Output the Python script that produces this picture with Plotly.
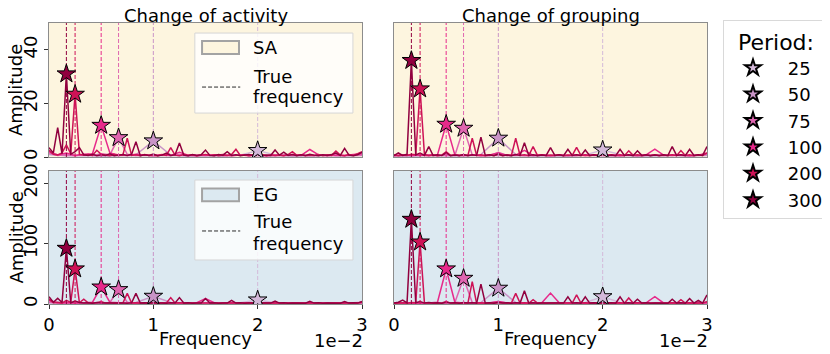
import plotly.graph_objects as go
from plotly.subplots import make_subplots

# Periods and their colours (PuRd)
PERIODS = [25, 50, 75, 100, 200, 300]
COLORS = ["#d4b9da", "#c994c7", "#df65b0", "#e7298a", "#ce1256", "#91003f"]
# number of samples of each series -> frequency bin width is 1/N
N_SAMPLES = [600, 600, 1200, 1200, 2400, 2400]

TITLES = ["Change of activity", "Change of grouping"]
MODELS = ["SA", "EG"]
Y_TICKS = [[0, 20, 40], [0, 100, 200]]
Y_MAX = [50, 220]
X_TICKS = [0, 0.01, 0.02, 0.03]
X_TICKTEXT = ["0", "1", "2", "3"]

# ---- amplitude spectra, SA / change of activity ----
SA_ACT_P25 = [0.8, 0.5, 0.4, 0.6, 0.5, 0.4, 0.5, 0.6, 0.4, 0.5,
              0.6, 0.7, 2.4, 0.8, 0.5, 0.4, 0.6, 0.5, 0.7]
SA_ACT_P50 = [1.0, 0.5, 0.7, 0.4, 0.6, 0.8, 6.0, 0.7, 0.5, 0.6,
              0.4, 0.7, 0.5, 0.6, 0.4, 0.5, 0.7, 0.5, 0.6]
SA_ACT_P75 = [1.5, 0.6, 0.8, 0.5, 0.9, 0.6, 1.2, 0.8, 7.2, 1.0,
              0.6, 0.8, 0.5, 0.7, 0.6, 0.9, 0.5, 0.7, 0.6, 0.8,
              0.5, 0.6, 0.7, 0.5, 0.8, 0.6, 0.5, 0.7, 0.6, 0.8,
              0.5, 0.6, 0.7, 0.5, 0.6, 0.8, 0.7]
SA_ACT_P100 = [2.0, 0.8, 1.5, 0.6, 1.0, 1.2, 11.8, 1.5, 0.8, 0.6,
               1.0, 0.7, 0.5, 0.9, 0.6, 1.8, 0.7, 0.5, 0.8, 0.6,
               0.9, 0.5, 0.7, 0.6, 0.8, 0.5, 0.7, 0.6, 0.9, 0.6,
               2.8, 0.8, 0.5, 0.7, 0.6, 0.9, 1.2]
SA_ACT_P200 = [2.5, 1.0, 0.8, 1.5, 4.5, 1.2, 23.4, 1.0, 0.7, 0.9,
               0.6, 2.5, 1.0, 0.7, 0.5, 0.9, 0.6, 0.8, 7.0, 0.6,
               0.8, 0.5, 0.9, 0.6, 0.7, 0.5, 0.8, 0.6, 3.5, 0.7,
               0.5, 0.9, 0.6, 0.8, 0.5, 0.7, 0.9, 0.6, 0.8, 0.5,
               0.7, 0.6, 0.9, 2.9, 0.6, 0.8, 0.5, 0.7, 0.6, 0.9,
               0.5, 0.8, 0.6, 0.7, 0.5, 0.9, 2.0, 0.6, 0.8, 0.5,
               0.7, 0.6, 0.9, 0.5, 0.8, 0.6, 2.2, 0.7, 0.5, 0.9,
               0.6, 1.2, 2.0]
SA_ACT_P300 = [3.5, 1.5, 11, 1.2, 31, 1.0, 2.0, 3.5, 0.8, 0.6,
               1.0, 0.5, 0.8, 0.6, 1.2, 0.5, 0.7, 0.9, 0.6, 1.0,
               5.7, 0.5, 0.8, 0.6, 1.1, 0.5, 0.7, 1.5, 0.6, 0.8,
               5.2, 0.7, 0.5, 0.9, 0.6, 0.8, 2.6, 0.6, 0.5, 0.9,
               0.7, 2.0, 0.6, 0.8, 0.5, 0.7, 0.9, 0.6, 0.8, 0.5,
               0.7, 0.6, 2.6, 0.7, 1.8, 0.6, 0.9, 0.5, 0.8, 0.6,
               1.0, 0.7, 0.5, 0.8, 0.6, 0.9, 1.5, 0.6, 3.2, 0.7,
               0.5, 0.8, 1.8]

# ---- SA / change of grouping ----
SA_GRP_P25 = [0.5, 0.4, 0.6, 0.5, 0.4, 0.6, 0.5, 0.4, 0.6, 0.5,
              0.4, 0.8, 2.6, 0.9, 0.5, 0.4, 0.6, 0.5, 0.7]
SA_GRP_P50 = [0.6, 0.4, 0.7, 0.5, 0.6, 0.9, 7.0, 0.9, 0.5, 0.6,
              0.4, 0.7, 0.5, 0.6, 0.4, 0.5, 0.7, 0.5, 0.6]
SA_GRP_P75 = [0.6, 0.5, 0.7, 0.6, 0.8, 0.5, 0.7, 0.6, 10.7, 0.8,
              0.6, 0.5, 1.8, 0.6, 0.7, 0.5, 0.6, 0.8, 0.5, 0.7,
              0.6, 0.5, 0.7, 0.6, 0.8, 0.5, 0.6, 0.7, 0.5, 0.6,
              0.8, 0.5, 0.7, 0.6, 0.5, 0.7, 1.0]
SA_GRP_P100 = [0.5, 0.8, 0.6, 0.7, 0.5, 0.8, 12.2, 0.8, 0.6, 0.7,
               0.5, 0.8, 1.5, 0.6, 0.7, 2.5, 0.6, 0.8, 0.5, 0.7,
               0.6, 0.8, 0.5, 0.7, 0.6, 0.8, 0.5, 0.7, 0.6, 0.8,
               2.9, 0.7, 0.6, 0.8, 0.5, 0.7, 1.5]
SA_GRP_P200 = [0.8, 0.5, 0.7, 0.6, 1.0, 0.8, 25.4, 0.9, 0.6, 0.8,
               0.5, 0.7, 2.0, 0.6, 0.8, 0.5, 0.7, 0.6, 7.0, 0.6,
               0.8, 0.5, 0.7, 0.6, 0.9, 0.5, 0.7, 0.6, 7.0, 0.6,
               0.8, 0.5, 3.9, 0.6, 0.8, 0.5, 0.7, 0.6, 0.8, 0.5,
               0.7, 0.6, 3.6, 0.6, 0.8, 0.5, 0.7, 0.6, 0.8, 0.5,
               0.7, 0.6, 0.8, 0.5, 2.3, 0.6, 0.8, 0.5, 0.7, 0.6,
               0.8, 0.5, 0.7, 0.6, 0.8, 0.5, 2.4, 0.6, 0.8, 0.5,
               0.7, 0.6, 1.5]
SA_GRP_P300 = [0.5, 1.5, 0.6, 1.0, 36, 0.8, 1.5, 0.6, 3.9, 0.5,
               0.8, 0.6, 1.5, 0.5, 0.7, 0.6, 0.9, 0.5, 0.8, 0.6,
               7.4, 0.6, 0.8, 0.5, 1.2, 0.6, 0.7, 0.5, 0.9, 0.6,
               5.3, 0.6, 0.8, 0.5, 0.7, 0.6, 3.5, 0.6, 0.8, 0.5,
               2.9, 0.6, 0.8, 0.5, 2.6, 0.6, 0.8, 0.5, 0.9, 0.6,
               0.7, 0.5, 2.9, 0.6, 0.8, 0.5, 2.3, 0.6, 0.8, 0.5,
               0.7, 0.6, 0.8, 0.5, 3.9, 0.6, 0.8, 0.5, 2.9, 0.6,
               0.8, 0.6, 3.9]

# ---- EG / change of activity ----
EG_ACT_P25 = [2.0, 1.2, 1.5, 1.0, 1.5, 1.2, 1.0, 1.5, 1.2, 1.0,
              1.5, 2.0, 6.6, 2.0, 1.2, 1.0, 1.5, 1.2, 1.5]
EG_ACT_P50 = [2.5, 1.5, 2.0, 1.2, 1.8, 2.5, 12.7, 2.5, 1.5, 2.0,
              1.2, 1.8, 1.5, 2.0, 1.2, 1.8, 1.5, 2.0, 1.5]
EG_ACT_P75 = [3.0, 1.5, 2.0, 1.2, 1.8, 1.5, 2.0, 2.5, 23.7, 3.0,
              1.5, 2.0, 1.2, 1.8, 1.5, 2.0, 1.2, 1.8, 1.5, 2.0,
              1.2, 1.8, 1.5, 2.0, 1.2, 1.8, 1.5, 2.0, 1.2, 1.8,
              1.5, 2.0, 1.2, 1.8, 1.5, 2.0, 1.5]
EG_ACT_P100 = [6.0, 2.0, 2.5, 1.5, 2.0, 3.0, 28, 3.0, 2.0, 1.5,
               2.0, 1.5, 2.5, 1.5, 2.0, 2.0, 1.5, 2.0, 9.0, 2.0,
               1.5, 2.5, 1.5, 2.0, 1.5, 2.0, 1.5, 2.0, 1.5, 2.0,
               1.5, 2.0, 1.5, 2.0, 1.5, 2.0, 2.5]
EG_ACT_P200 = [8.0, 2.0, 3.0, 1.5, 6.0, 2.5, 58, 2.0, 8.0, 2.0,
               1.5, 2.0, 4.0, 1.5, 2.0, 1.2, 1.8, 1.5, 17.6, 1.5,
               2.0, 1.2, 1.8, 1.5, 2.0, 1.2, 1.8, 1.5, 10.5, 1.5,
               2.0, 1.2, 1.8, 1.5, 2.0, 1.2, 1.8, 1.5, 2.0, 1.2,
               1.8, 1.5, 2.0, 1.2, 1.8, 1.5, 2.0, 1.2, 1.8, 1.5,
               2.0, 1.2, 1.8, 1.5, 2.0, 1.2, 1.8, 1.5, 2.0, 1.2,
               1.8, 1.5, 2.0, 1.2, 1.8, 1.5, 2.0, 1.2, 1.8, 1.5,
               2.0, 1.5, 3.0]
EG_ACT_P300 = [12, 3.0, 9.4, 2.5, 92, 2.0, 5.0, 2.5, 1.5, 2.0,
               1.2, 2.5, 1.5, 1.8, 1.2, 2.0, 1.5, 1.8, 1.2, 2.0,
               17.6, 1.5, 2.0, 1.2, 2.5, 1.5, 1.8, 1.2, 2.0, 1.5,
               10.5, 1.5, 2.0, 1.2, 1.8, 1.5, 9.0, 1.5, 2.0, 1.2,
               1.8, 1.5, 6.0, 1.5, 2.0, 1.2, 1.8, 1.5, 2.0, 1.2,
               1.8, 1.5, 5.0, 1.5, 2.0, 1.2, 1.8, 1.5, 2.0, 1.2,
               4.5, 1.5, 2.0, 1.2, 1.8, 1.5, 2.0, 1.2, 4.0, 1.5,
               2.0, 1.5, 4.0]

# ---- EG / change of grouping ----
EG_GRP_P25 = [1.5, 1.2, 1.8, 1.5, 1.2, 1.8, 1.5, 1.2, 1.8, 1.5,
              1.2, 2.5, 12, 2.5, 1.5, 1.2, 1.8, 1.5, 2.0]
EG_GRP_P50 = [1.5, 1.2, 1.8, 1.5, 2.0, 2.5, 26, 2.5, 1.5, 2.0,
              1.2, 1.8, 1.5, 2.0, 1.2, 1.8, 1.5, 2.0, 1.5]
EG_GRP_P75 = [1.5, 1.2, 1.8, 1.5, 2.0, 1.2, 1.8, 2.5, 42.4, 2.5,
              1.5, 2.0, 4.0, 1.5, 2.0, 1.2, 1.8, 1.5, 2.0, 1.2,
              1.8, 1.5, 2.0, 1.2, 1.8, 1.5, 2.0, 1.2, 1.8, 1.5,
              2.0, 1.2, 1.8, 1.5, 2.0, 1.2, 1.8]
EG_GRP_P100 = [2.0, 1.5, 2.0, 1.2, 1.8, 3.0, 58, 3.0, 1.5, 2.0,
               1.2, 1.8, 4.0, 1.5, 2.0, 1.2, 1.8, 2.0, 18, 2.0,
               1.5, 2.0, 1.2, 1.8, 1.5, 2.0, 1.2, 1.8, 1.5, 2.0,
               12, 1.8, 1.5, 2.0, 1.2, 1.8, 2.0]
EG_GRP_P200 = [1.0, 1.5, 2.0, 1.2, 2.5, 2.0, 102.5, 2.0, 1.5, 2.0,
               1.2, 1.8, 4.0, 1.5, 2.0, 1.2, 1.8, 1.5, 37, 1.5,
               2.0, 1.2, 1.8, 1.5, 2.0, 1.2, 1.8, 1.5, 17.6, 1.5,
               2.0, 1.2, 7.0, 1.5, 2.0, 1.2, 1.8, 1.5, 2.0, 1.2,
               1.8, 1.5, 15, 1.5, 2.0, 1.2, 1.8, 1.5, 2.0, 1.2,
               1.8, 1.5, 2.0, 1.2, 10, 1.5, 2.0, 1.2, 1.8, 1.5,
               2.0, 1.2, 1.8, 1.5, 2.0, 1.2, 7.0, 1.5, 2.0, 1.2,
               1.8, 1.5, 4.0]
EG_GRP_P300 = [1.5, 3.0, 6.6, 2.0, 140, 2.0, 4.0, 1.5, 2.5, 1.5,
               2.0, 1.2, 3.0, 1.5, 2.0, 1.2, 2.5, 1.5, 2.0, 1.5,
               33, 1.5, 2.0, 1.2, 3.0, 1.5, 2.0, 1.2, 2.0, 1.5,
               22, 1.5, 2.0, 1.2, 1.8, 1.5, 2.0, 1.2, 1.8, 1.5,
               12, 1.5, 2.0, 1.2, 12, 1.5, 2.0, 1.2, 2.5, 1.5,
               2.0, 1.2, 12, 1.5, 2.0, 1.2, 8.0, 1.5, 2.0, 1.2,
               1.8, 1.5, 2.0, 1.2, 8.0, 1.5, 2.0, 1.2, 9.0, 1.5,
               6.0, 1.5, 15]

PANELS = [
    (1, 1, [SA_ACT_P25, SA_ACT_P50, SA_ACT_P75, SA_ACT_P100, SA_ACT_P200, SA_ACT_P300]),
    (1, 2, [SA_GRP_P25, SA_GRP_P50, SA_GRP_P75, SA_GRP_P100, SA_GRP_P200, SA_GRP_P300]),
    (2, 1, [EG_ACT_P25, EG_ACT_P50, EG_ACT_P75, EG_ACT_P100, EG_ACT_P200, EG_ACT_P300]),
    (2, 2, [EG_GRP_P25, EG_GRP_P50, EG_GRP_P75, EG_GRP_P100, EG_GRP_P200, EG_GRP_P300]),
]

BG = ["#fdf5df", "#dce9f1"]
FONT = "DejaVu Sans"
# the page body adds an 8px margin, so the figure is a bit smaller than the window
PAD = 8
W, H = 830 - PAD, 354 - PAD


def px(x):
    return (x - PAD) / W


def py(y):
    return 1 - (y - PAD) / H


fig = make_subplots(rows=2, cols=2)

for row, col, spectra in PANELS:
    ymax = Y_MAX[row - 1]
    # panel background
    fig.add_shape(type="rect", xref="x domain", yref="y domain", x0=0, x1=1, y0=0, y1=1,
                  fillcolor=BG[row - 1], line_width=0, layer="below", row=row, col=col)
    # spectra
    for period, color, n, amp in zip(PERIODS, COLORS, N_SAMPLES, spectra):
        freq = [i / n for i in range(len(amp))]
        fig.add_trace(go.Scatter(x=freq, y=amp, mode="lines", line=dict(color=color, width=1.5),
                                 showlegend=False, hoverinfo="skip"), row=row, col=col)
    # true frequencies
    for period, color in zip(PERIODS, COLORS):
        f0 = 1 / (2 * period)
        fig.add_trace(go.Scatter(x=[f0, f0], y=[0, ymax], mode="lines",
                                 line=dict(color=color, width=1, dash="4px,2px"),
                                 showlegend=False, hoverinfo="skip"), row=row, col=col)
    # stars at the detected amplitude
    for period, color, n, amp in zip(PERIODS, COLORS, N_SAMPLES, spectra):
        f0 = 1 / (2 * period)
        a0 = amp[round(f0 * n)]
        fig.add_trace(go.Scatter(x=[f0], y=[a0], mode="markers",
                                 name="\u00a0" + str(period),
                                 legendgroup=str(period),
                                 marker=dict(symbol="star", size=14, color=color,
                                             line=dict(color="black", width=1)),
                                 showlegend=(row == 1 and col == 1)), row=row, col=col)

# panel placement
XD = [[px(49), px(362)], [px(394), px(707)]]
YD = [[py(157), py(23)], [py(304), py(171)]]
axis_n = {(1, 1): "", (1, 2): "2", (2, 1): "3", (2, 2): "4"}
for (r, c), s in axis_n.items():
    fig.layout["xaxis" + s].domain = XD[c - 1]
    fig.layout["yaxis" + s].domain = YD[r - 1]

fig.update_xaxes(range=[0, 0.03], showgrid=False, zeroline=False, showline=True, mirror=True,
                 linecolor="#8c8c8c", linewidth=1, tickvals=X_TICKS, ticktext=X_TICKTEXT,
                 ticks="outside", ticklen=4, tickcolor="#333", tickfont=dict(size=18),
                 automargin=False)
fig.update_xaxes(showticklabels=False, ticks="", row=1)
fig.update_yaxes(showgrid=False, zeroline=False, showline=True, mirror=True,
                 linecolor="#8c8c8c", linewidth=1, ticks="outside", ticklen=4, tickcolor="#333",
                 tickangle=-90, tickfont=dict(size=18), automargin=False)
for r in (1, 2):
    fig.update_yaxes(range=[0, Y_MAX[r - 1]], tickvals=Y_TICKS[r - 1], row=r)
fig.update_yaxes(showticklabels=False, ticks="", col=2)

# titles and axis labels
for c in (1, 2):
    xc = (XD[c - 1][0] + XD[c - 1][1]) / 2
    fig.add_annotation(text=TITLES[c - 1], x=xc, y=py(16), xref="paper", yref="paper",
                       showarrow=False, font=dict(size=18), xanchor="center", yanchor="middle")
    fig.add_annotation(text="Frequency", x=xc, y=py(338), xref="paper", yref="paper",
                       showarrow=False, font=dict(size=18), xanchor="center", yanchor="middle")
    fig.add_annotation(text="1e\u22122", x=XD[c - 1][1] + 3 / W, y=py(340), xref="paper", yref="paper",
                       showarrow=False, font=dict(size=18), xanchor="right", yanchor="middle")
for r in (1, 2):
    yc = (YD[r - 1][0] + YD[r - 1][1]) / 2
    fig.add_annotation(text="Amplitude", x=px(16), y=yc, xref="paper", yref="paper",
                       showarrow=False, font=dict(size=18), textangle=-90,
                       xanchor="center", yanchor="middle")

# in-panel legends (model background + true frequency)
LEG_Y = [dict(patch=0.817, line=0.522, t1=0.604, t2=0.448, top=0.925, bot=0.328),
         dict(patch=0.82, line=0.549, t1=0.619, t2=0.456, top=0.932, bot=0.331)]
for r in (1, 2):
    ly = LEG_Y[r - 1]
    fig.add_shape(type="rect", xref="x domain", yref="y domain", x0=0.466, x1=0.971,
                  y0=ly["bot"], y1=ly["top"],
                  fillcolor="rgba(255,255,255,0.8)", line=dict(color="#d6d6d6", width=1), row=r, col=1)
    fig.add_shape(type="rect", xref="x domain", yref="y domain", x0=0.489, x1=0.607,
                  y0=ly["patch"] - 0.048, y1=ly["patch"] + 0.048,
                  fillcolor=BG[r - 1], line=dict(color="#a3a3a3", width=2), row=r, col=1)
    fig.add_shape(type="line", xref="x domain", yref="y domain", x0=0.489, x1=0.611,
                  y0=ly["line"], y1=ly["line"], line=dict(color="#2b2b2b", width=1, dash="4px,2px"),
                  row=r, col=1)
    fig.add_annotation(text=MODELS[r - 1], xref="x domain", yref="y domain", x=0.645, y=ly["patch"],
                       showarrow=False, xanchor="left", yanchor="middle", font=dict(size=18), row=r, col=1)
    fig.add_annotation(text="True", xref="x domain", yref="y domain", x=0.645, y=ly["t1"],
                       showarrow=False, xanchor="left", yanchor="middle", font=dict(size=18), row=r, col=1)
    fig.add_annotation(text="frequency", xref="x domain", yref="y domain", x=0.645, y=ly["t2"],
                       showarrow=False, xanchor="left", yanchor="middle", font=dict(size=18), row=r, col=1)

fig.update_layout(
    width=W, height=H,
    margin=dict(l=0, r=0, t=0, b=0, autoexpand=False),
    paper_bgcolor="white", plot_bgcolor="white",
    font=dict(family=FONT, size=18, color="black"),
    legend=dict(x=px(723), y=py(20), xanchor="left", yanchor="top",
                bgcolor="white", bordercolor="#d9d9d9", borderwidth=1,
                font=dict(size=18), title=dict(text="Period:", side="top center"),
                itemwidth=48, itemsizing="constant", tracegroupgap=0),
)

fig.write_html("out.html")
